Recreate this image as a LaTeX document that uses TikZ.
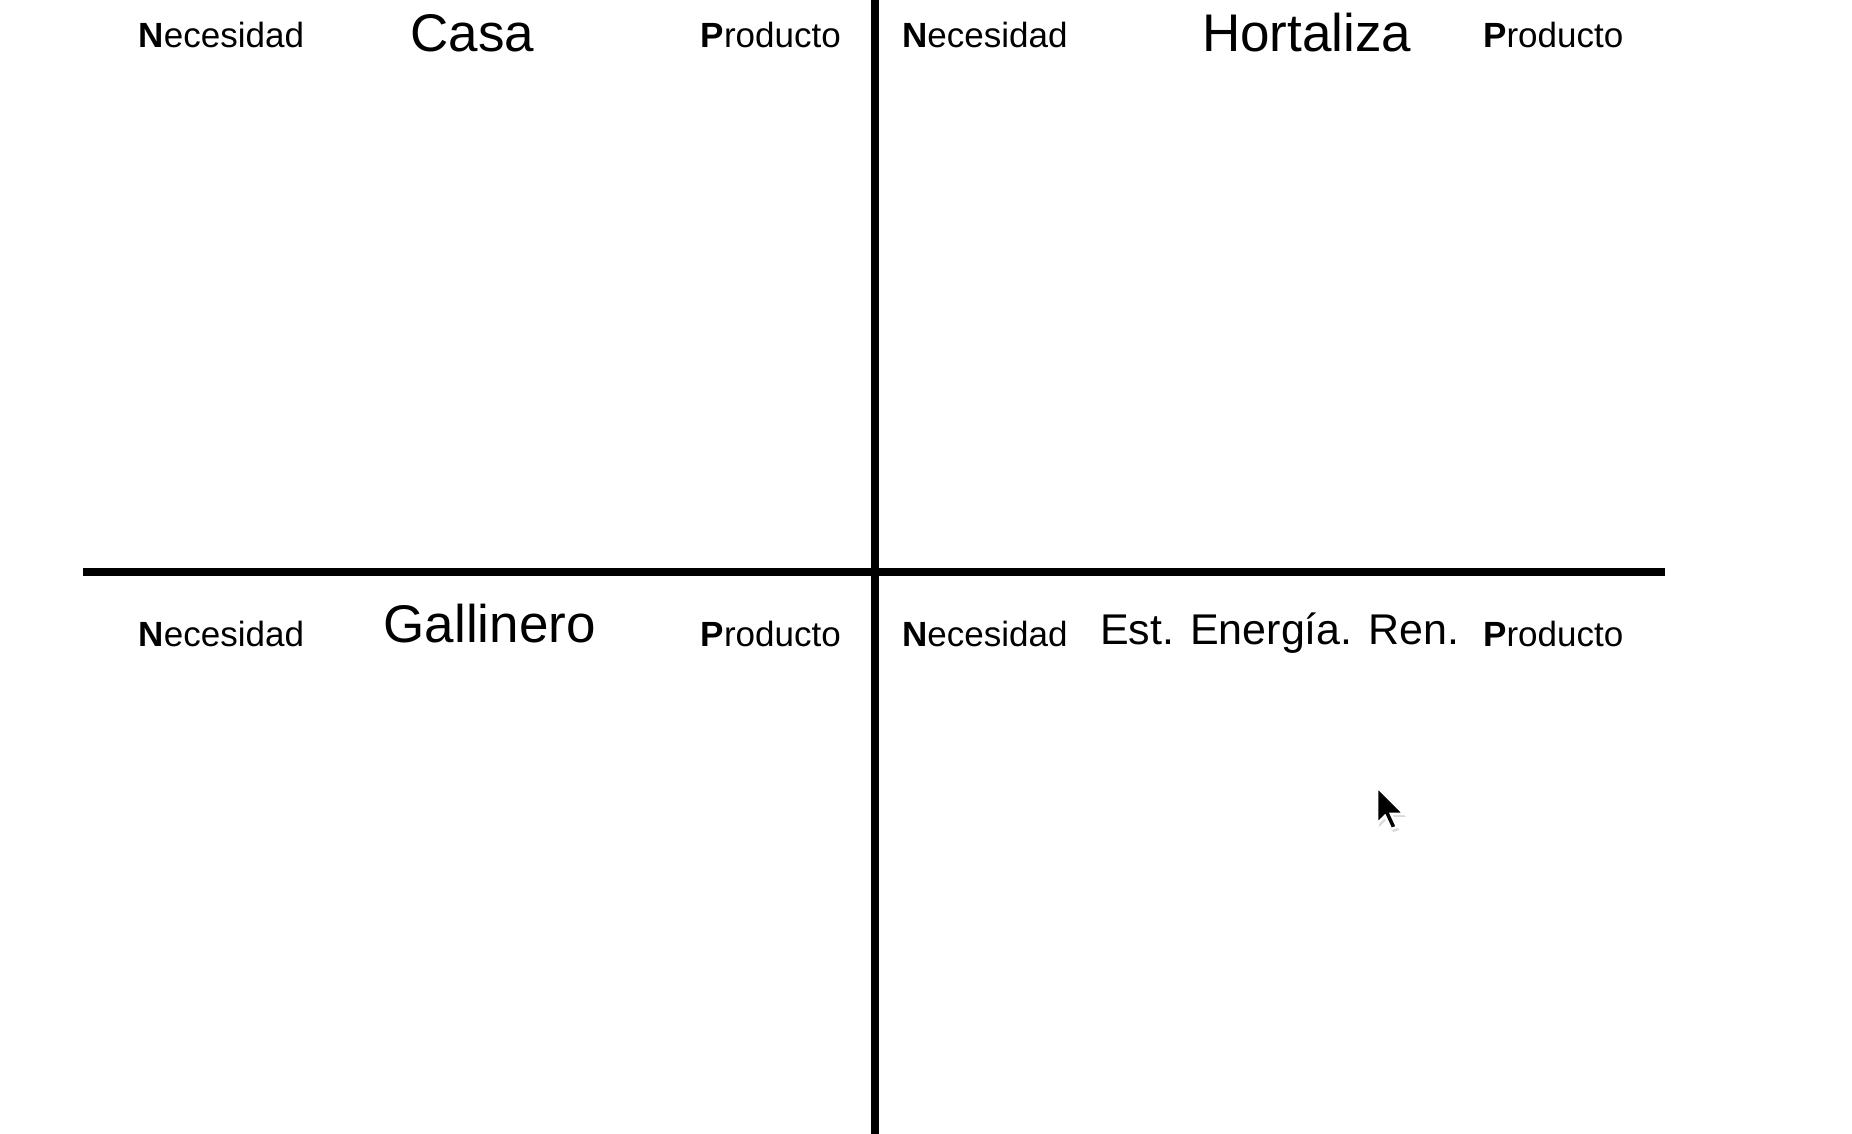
\documentclass[tikz,border=0pt]{standalone}
\usepackage{fontspec}
\setmainfont{Liberation Sans}
\tikzset{
  lbl/.style={anchor=base west,inner sep=0pt,font=\fontsize{35bp}{40bp}\selectfont},
  titulo/.style={anchor=base west,inner sep=0pt,font=\fontsize{53bp}{60bp}\selectfont},
  raya/.style={line width=7.5bp,black},
}
\begin{document}
\begin{tikzpicture}[>=latex,line join=bevel,]
%%
\useasboundingbox [fill=white] (0bp,0bp) rectangle (1852bp,1134bp);
\draw [raya] (875bp,1134bp) -- (875bp,0bp);
\draw [raya] (83bp,562bp) -- (1665bp,562bp);
%
\node (nec_1) at (138.5bp,1086bp) [lbl] {\textbf{N}ecesidad};
  \node (casa) at (410.5bp,1082bp) [titulo] {Casa};
  \node (prod_1) at (700.5bp,1086bp) [lbl] {\textbf{P}roducto};
\node (nec_2) at (902bp,1086bp) [lbl] {\textbf{N}ecesidad};
  \node (hortaliza) at (1202bp,1082bp) [titulo] {Hortaliza};
  \node (prod_2) at (1483bp,1086bp) [lbl] {\textbf{P}roducto};
\node (nec_3) at (138.5bp,487bp) [lbl] {\textbf{N}ecesidad};
  \node (gallinero) at (383.5bp,491bp) [titulo] {Gallinero};
  \node (prod_3) at (700.5bp,487bp) [lbl] {\textbf{P}roducto};
\node (nec_4) at (902bp,487bp) [lbl] {\textbf{N}ecesidad};
  \node (energia) at (1100bp,489bp) [titulo,font=\fontsize{43bp}{50bp}\selectfont] {Est. Energía. Ren.};
  \node (prod_4) at (1483bp,487bp) [lbl] {\textbf{P}roducto};
%
\fill [black!15] (1379bp,344bp) -- (1379bp,307bp) -- (1387bp,315bp) -- (1393bp,302bp) -- (1399bp,304bp) -- (1393bp,317bp) -- (1406bp,317bp) -- cycle;
\filldraw [fill=black,draw=white,line width=2.5bp,line join=miter] (1377bp,347bp) -- (1377bp,310bp) -- (1385bp,318bp) -- (1391bp,305bp) -- (1397bp,307bp) -- (1391bp,320bp) -- (1404bp,320bp) -- cycle;
%
\end{tikzpicture}
\end{document}
